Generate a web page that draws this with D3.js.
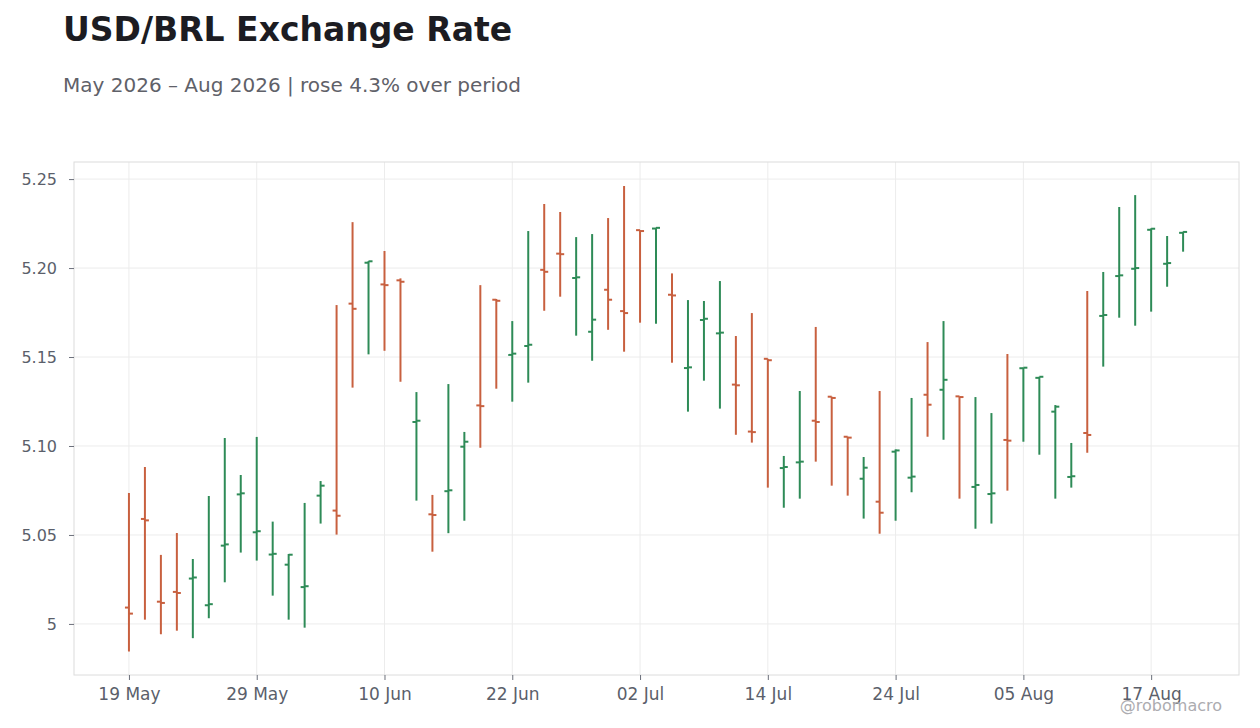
<!DOCTYPE html>
<html>
<head>
<meta charset="utf-8">
<script src="https://cdn.jsdelivr.net/npm/d3@7"></script>
<style>
  body { margin: 0; background: #fff; font-family: "DejaVu Sans", sans-serif; }
  .tick text { fill: #5b5f6b; font-family: "DejaVu Sans", sans-serif; }
  .xaxis .tick text { font-size: 17px; }
  .yaxis .tick text { font-size: 16px; }
  .tick line { stroke: #6b6f7a; }
  .domain { display: none; }
</style>
</head>
<body>
<div id="chart"></div>
<script>
// trading days
const dates = [
  "2026-05-19","2026-05-20","2026-05-21","2026-05-22","2026-05-25","2026-05-26","2026-05-27","2026-05-28","2026-05-29",
  "2026-06-01","2026-06-02","2026-06-03","2026-06-04","2026-06-05","2026-06-08","2026-06-09","2026-06-10","2026-06-11","2026-06-12",
  "2026-06-15","2026-06-16","2026-06-17","2026-06-18","2026-06-19","2026-06-22","2026-06-23","2026-06-24","2026-06-25","2026-06-26",
  "2026-06-29","2026-06-30","2026-07-01","2026-07-02","2026-07-03","2026-07-06","2026-07-07","2026-07-08","2026-07-09","2026-07-10",
  "2026-07-13","2026-07-14","2026-07-15","2026-07-16","2026-07-17","2026-07-20","2026-07-21","2026-07-22","2026-07-23","2026-07-24",
  "2026-07-27","2026-07-28","2026-07-29","2026-07-30","2026-07-31","2026-08-03","2026-08-04","2026-08-05","2026-08-06","2026-08-07",
  "2026-08-10","2026-08-11","2026-08-12","2026-08-13","2026-08-14","2026-08-17","2026-08-18","2026-08-19"
];

const opens = [
  5.0092, 5.0590, 5.0125, 5.0180, 5.0255, 5.0105, 5.0440, 5.0728, 5.0515, 5.0390,
  5.0333, 5.0207, 5.0721, 5.0637, 5.1800, 5.2030, 5.1908, 5.1931, 5.1135, 5.0616,
  5.0746, 5.0996, 5.1228, 5.1822, 5.1512, 5.1562, 5.1990, 5.2081, 5.1944, 5.1642,
  5.1878, 5.1758, 5.2213, 5.2222, 5.1850, 5.1438, 5.1708, 5.1633, 5.1345, 5.1081,
  5.1490, 5.0876, 5.0908, 5.1142, 5.1277, 5.1052, 5.0816, 5.0687, 5.0968, 5.0822,
  5.1288, 5.1316, 5.1279, 5.0770, 5.0730, 5.1034, 5.1437, 5.1383, 5.1193, 5.0826,
  5.1073, 5.1731, 5.1955, 5.1996, 5.2215, 5.2024, 5.2198
];
const highs = [
  5.0736, 5.0882, 5.0388, 5.0511, 5.0365, 5.0719, 5.1045, 5.0837, 5.1051, 5.0575,
  5.0393, 5.0680, 5.0803, 5.1792, 5.2258, 5.2039, 5.2096, 5.1942, 5.1303, 5.0725,
  5.1348, 5.1079, 5.1904, 5.1826, 5.1702, 5.2208, 5.2360, 5.2315, 5.2174, 5.2191,
  5.2281, 5.2461, 5.2213, 5.2226, 5.1970, 5.1820, 5.1815, 5.1927, 5.1618, 5.1747,
  5.1490, 5.0944, 5.1309, 5.1669, 5.1277, 5.1052, 5.0938, 5.1309, 5.0981, 5.1270,
  5.1584, 5.1702, 5.1279, 5.1275, 5.1185, 5.1517, 5.1440, 5.1389, 5.1230, 5.1017,
  5.1871, 5.1978, 5.2343, 5.2410, 5.2223, 5.2180, 5.2204
];
const lows = [
  4.9845, 5.0024, 4.9942, 4.9962, 4.9920, 5.0032, 5.0234, 5.0401, 5.0356, 5.0159,
  5.0024, 4.9979, 5.0564, 5.0502, 5.1328, 5.1515, 5.1535, 5.1361, 5.0693, 5.0406,
  5.0510, 5.0580, 5.0990, 5.1322, 5.1249, 5.1356, 5.1760, 5.1839, 5.1620, 5.1479,
  5.1653, 5.1530, 5.1693, 5.1687, 5.1468, 5.1193, 5.1367, 5.1210, 5.1063, 5.1019,
  5.0766, 5.0653, 5.0704, 5.0912, 5.0777, 5.0721, 5.0592, 5.0507, 5.0580, 5.0740,
  5.1052, 5.1035, 5.0704, 5.0535, 5.0564, 5.0749, 5.1024, 5.0951, 5.0704, 5.0766,
  5.0962, 5.1446, 5.1721, 5.1676, 5.1755, 5.1895, 5.2092
];
const closes = [
  5.0058, 5.0582, 5.0118, 5.0174, 5.0261, 5.0111, 5.0447, 5.0734, 5.0521, 5.0394,
  5.0389, 5.0212, 5.0777, 5.0608, 5.1771, 5.2038, 5.1904, 5.1923, 5.1142, 5.0612,
  5.0751, 5.1024, 5.1224, 5.1816, 5.1519, 5.1569, 5.1979, 5.2078, 5.1948, 5.1710,
  5.1822, 5.1747, 5.2208, 5.2226, 5.1846, 5.1442, 5.1715, 5.1637, 5.1341, 5.1078,
  5.1482, 5.0882, 5.0912, 5.1135, 5.1270, 5.1047, 5.0878, 5.0625, 5.0975, 5.0828,
  5.1232, 5.1372, 5.1275, 5.0781, 5.0734, 5.1030, 5.1440, 5.1389, 5.1221, 5.0830,
  5.1062, 5.1736, 5.1959, 5.2000, 5.2221, 5.2028, 5.2203
];

const yTicks = [5, 5.05, 5.10, 5.15, 5.20, 5.25];
const yTickLabels = ["5", "5.05", "5.10", "5.15", "5.20", "5.25"];
const xTickIdx = [0, 8, 16, 24, 32, 40, 48, 56, 64];

const W = 1260, H = 728;
const margin = {top: 162, right: 21, bottom: 53, left: 74};
const width = W - margin.left - margin.right,
      height = H - margin.top - margin.bottom;

const parse = d3.timeParse("%Y-%m-%d");
const fmt = d3.timeFormat("%d %b");
const data = dates.map((d, i) => ({
  i: i, date: parse(d), o: opens[i], h: highs[i], l: lows[i], c: closes[i]
}));

const svg = d3.select("#chart").append("svg")
  .attr("width", W).attr("height", H);

svg.append("text")
  .attr("x", 63).attr("y", 41)
  .style("font-size", "33px").style("font-weight", "bold")
  .style("fill", "#1c1c22")
  .text("USD/BRL Exchange Rate");

svg.append("text")
  .attr("x", 63).attr("y", 92)
  .style("font-size", "20px")
  .style("fill", "#5f6169")
  .text("May 2026 \u2013 Aug 2026 | rose 4.3% over period");

const g = svg.append("g")
  .attr("transform", "translate(" + margin.left + "," + margin.top + ")");

const x = d3.scaleLinear()
  .domain([-3.44, 69.5])
  .range([0, width]);

const y = d3.scaleLinear()
  .domain([4.9713, 5.2596])
  .range([height, 0]);

// grid
g.append("g").selectAll("line")
  .data(yTicks).enter().append("line")
  .attr("x1", 0).attr("x2", width)
  .attr("y1", d => y(d)).attr("y2", d => y(d))
  .attr("stroke", "#ececec");

g.append("g").selectAll("line")
  .data(xTickIdx).enter().append("line")
  .attr("y1", 0).attr("y2", height)
  .attr("x1", d => x(d)).attr("x2", d => x(d))
  .attr("stroke", "#ececec");

g.append("rect")
  .attr("width", width).attr("height", height)
  .attr("fill", "none").attr("stroke", "#dcdcdc");

g.append("g")
  .attr("class", "xaxis")
  .attr("transform", "translate(0," + height + ")")
  .call(d3.axisBottom(x)
    .tickValues(xTickIdx)
    .tickSize(5).tickPadding(8)
    .tickFormat(d => fmt(data[d].date)));

g.append("g")
  .attr("class", "yaxis")
  .call(d3.axisLeft(y)
    .tickValues(yTicks)
    .tickSize(5).tickPadding(12)
    .tickFormat((d, i) => yTickLabels[i]));

const up = "#2e8b57", down = "#c8603f";
const bars = g.append("g").selectAll("g")
  .data(data).enter().append("g")
  .attr("stroke", d => d.c >= d.o ? up : down)
  .attr("stroke-width", 2);

bars.append("line")
  .attr("x1", d => x(d.i)).attr("x2", d => x(d.i))
  .attr("y1", d => y(d.h)).attr("y2", d => y(d.l));

bars.append("line")
  .attr("x1", d => x(d.i) - 4).attr("x2", d => x(d.i))
  .attr("y1", d => y(d.o)).attr("y2", d => y(d.o));

bars.append("line")
  .attr("x1", d => x(d.i)).attr("x2", d => x(d.i) + 4)
  .attr("y1", d => y(d.c)).attr("y2", d => y(d.c));

svg.append("text")
  .attr("x", 1222).attr("y", 711)
  .attr("text-anchor", "end")
  .style("font-size", "16px")
  .style("fill", "#acacb0")
  .text("@robomacro");
</script>
</body>
</html>
